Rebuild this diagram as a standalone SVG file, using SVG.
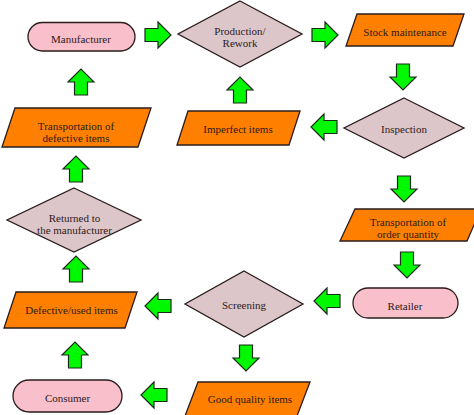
<svg xmlns="http://www.w3.org/2000/svg" xmlns:xlink="http://www.w3.org/1999/xlink" width="474" height="415" viewBox="0 0 474 415">
<style>
.pill{fill:#f9bfcb;stroke:#2a1c1c;stroke-width:1.3}
.dia{fill:#dcc6ca;stroke:#2a1c1c;stroke-width:1.3}
.io{fill:#ff8000;stroke:#2a1c1c;stroke-width:1.3}
.arr{fill:#00f800;stroke:#1a2a1a;stroke-width:1.2}
text{font-family:"Liberation Serif","DejaVu Serif",serif;font-size:11px;fill:#2e1a1a;text-anchor:middle}
</style>
<defs>
<path id="ba" class="arr" d="M-13,-6.5 H0 V-13 L13,0 L0,13 V6.5 H-13 Z"/>
</defs>
<rect width="474" height="415" fill="#ffffff"/>
<g id="connectors">
<use xlink:href="#ba" transform="translate(158,35)"/>
<use xlink:href="#ba" transform="translate(325,35)"/>
<use xlink:href="#ba" transform="translate(403,77) rotate(90)"/>
<use xlink:href="#ba" transform="translate(324,127) rotate(180)"/>
<use xlink:href="#ba" transform="translate(240,90) rotate(-90)"/>
<use xlink:href="#ba" transform="translate(81,82) rotate(-90)"/>
<use xlink:href="#ba" transform="translate(76,169) rotate(-90)"/>
<use xlink:href="#ba" transform="translate(76,269) rotate(-90)"/>
<use xlink:href="#ba" transform="translate(158,306) rotate(180)"/>
<use xlink:href="#ba" transform="translate(327,301) rotate(180)"/>
<use xlink:href="#ba" transform="translate(407,265) rotate(90)"/>
<use xlink:href="#ba" transform="translate(404,189) rotate(90)"/>
<use xlink:href="#ba" transform="translate(246,358) rotate(90)"/>
<use xlink:href="#ba" transform="translate(154,395) rotate(180)"/>
<use xlink:href="#ba" transform="translate(75,355) rotate(-90)"/>
</g>
<g id="manufacturer">
<rect class="pill" x="28" y="22.5" width="107" height="28.5" rx="14.25"/>
<text x="81" y="43">Manufacturer</text>
</g>
<g id="production">
<polygon class="dia" points="240,1 302,34 240,67 178,34"/>
<text x="240" y="35">Production/</text>
<text x="240" y="46.5">Rework</text>
</g>
<g id="stock">
<polygon class="io" points="357,14 464,14 453,46 346,46"/>
<text x="405" y="35.5">Stock maintenance</text>
</g>
<g id="inspection">
<polygon class="dia" points="404,98 464,128 404,158 344,128"/>
<text x="404" y="133">Inspection</text>
</g>
<g id="imperfect">
<polygon class="io" points="188,111 300,111 289,145 177,145"/>
<text x="238" y="133">Imperfect items</text>
</g>
<g id="transport-defective">
<polygon class="io" points="15,108 151,108 138,147 2,147"/>
<text x="76" y="130">Transportation of</text>
<text x="76" y="141.5">defective items</text>
</g>
<g id="returned">
<polygon class="dia" points="74,188 141,220 74,252 7,220"/>
<text x="74.5" y="222">Returned to</text>
<text x="74.5" y="233.5">the manufacturer</text>
</g>
<g id="transport-order">
<polygon class="io" points="355,209 481,209 467,241 340,241"/>
<text x="408" y="226">Transportation of</text>
<text x="408" y="237.5">order quantity</text>
</g>
<g id="defective-used">
<polygon class="io" points="16,292 137,292 125,328 4,328"/>
<text x="71.5" y="314">Defective/used items</text>
</g>
<g id="screening">
<polygon class="dia" points="244,271 303,304 244,337 185,304"/>
<text x="244" y="309">Screening</text>
</g>
<g id="retailer">
<rect class="pill" x="353" y="288" width="105" height="30" rx="15"/>
<text x="405" y="310">Retailer</text>
</g>
<g id="good-quality">
<polygon class="io" points="198,382 310,382 297,416 185,416"/>
<text x="250" y="403">Good quality items</text>
</g>
<g id="consumer">
<rect class="pill" x="13" y="380" width="109" height="32" rx="16"/>
<text x="67.5" y="402">Consumer</text>
</g>
</svg>
